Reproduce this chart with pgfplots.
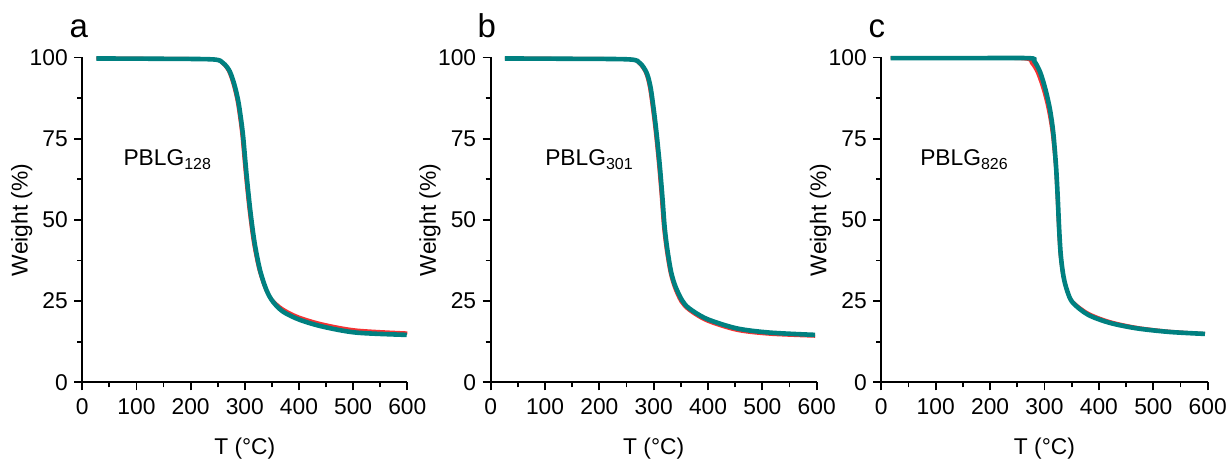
\documentclass[border=0pt]{standalone}
\usepackage{pgfplots}
\pgfplotsset{compat=1.18}
\usepackage{fontspec}
\setmainfont{Liberation Sans}
\definecolor{tealc}{RGB}{0,128,128}
\definecolor{redc}{RGB}{245,50,50}
\newcommand{\tfont}{\fontsize{22.8}{27}\selectfont}
\pgfplotsset{
  tga/.style={
    scale only axis, width=325pt, height=324.8pt,
    anchor=south west,
    xmin=0, xmax=600, ymin=0, ymax=100,
    axis x line=bottom, axis y line=left,
    axis line style={-, line width=1.8pt},
    xtick={0,100,...,600}, ytick={0,25,50,75,100},
    minor x tick num=1, minor y tick num=1,
    tick align=outside,
    major tick length=8pt, minor tick length=5pt,
    every tick/.style={line width=1.8pt, black},
    ticklabel style={font=\tfont},
    xticklabel style={yshift=-5pt},
    yticklabel style={xshift=-3pt},
    /pgf/number format/assume math mode=true,
    label style={font=\tfont},
    xlabel={T (°C)}, ylabel={Weight (\%)},
    xlabel style={at={(axis description cs:0.5,-0.2238)}, anchor=base},
    ylabel style={at={(axis description cs:-0.1865,0.5)}, anchor=center},
    clip=false,
  },
  redline/.style={color=redc, line width=3.2pt, smooth, tension=0.5},
  tealline/.style={color=tealc, line width=4.6pt, smooth, tension=0.5},
}
\begin{document}
\begin{tikzpicture}
\useasboundingbox (0pt,-462pt) rectangle (1231pt,0pt);
% panel a
\begin{axis}[tga, at={(82.3pt,-382.3pt)}]
\addplot[redline] coordinates {(26,99.8) (150,99.7) (240,99.5) (258,98.3) (270,95.8) (279,91.5) (286,86.5) (291,81) (295,75.5) (301,64.3) (308,53) (316,43) (326,34.8) (338,28.8) (350,25.5) (370,22.6) (400,20.1) (445,17.9) (506,16.1) (600,15.2)};
\addplot[tealline] coordinates {(26,99.7) (150,99.6) (242,99.4) (260,98.3) (272,95.8) (281,91.5) (288,86.5) (293,81) (297,75.5) (303,64.3) (310,53) (318,43) (328,34.6) (340,28.4) (352,24.8) (371,21.7) (402,19.2) (445,17.1) (506,15.3) (599,14.6)};
\node[anchor=base west, font=\tfont] at (axis cs:69.6,66.9) {PBLG\textsubscript{128}};
\end{axis}
% panel b
\begin{axis}[tga, at={(490.7pt,-382.3pt)}, width=326pt]
\addplot[redline] coordinates {(26,99.8) (150,99.7) (254,99.5) (273,98.2) (285,95.3) (292,91) (298,84) (303,77) (309,67) (314,57) (318,48) (323,41) (330,34) (338,29.3) (350,24.9) (365,22.2) (398,18.9) (453,16.0) (514,14.8) (597,14.2)};
\addplot[tealline] coordinates {(26,99.7) (150,99.6) (256,99.4) (275,98.2) (287,95.3) (294,91) (300,84) (305,77) (311,67) (316,57) (320,48) (325,41) (332,34) (340,29.5) (352,25.3) (365,22.8) (398,19.5) (453,16.6) (514,15.3) (597,14.6)};
\node[anchor=base west, font=\tfont] at (axis cs:93.9,66.9) {PBLG\textsubscript{301}};
\end{axis}
% panel c
\begin{axis}[tga, at={(881.3pt,-382.3pt)}, width=326.4pt]
\addplot[redline] coordinates {(17,99.9) (150,99.9) (262,99.6) (276,98.3) (287,95.3) (298,90) (307,84) (314,77) (320,67) (323,58) (326,47) (329,39) (334,32.8) (341,28.4) (351,25) (380,21.3) (420,18.7) (470,16.9) (530,15.7) (595,15.0)};
\addplot[tealline] coordinates {(17,99.8) (150,99.8) (270,99.8) (281,98.9) (292,95.5) (302,90) (310,84) (316,77) (321,67) (324,58) (327,47) (330,39) (335,32.5) (342,28) (352,24.5) (380,20.8) (420,18.3) (470,16.6) (530,15.5) (595,14.9)};
\node[anchor=base west, font=\tfont] at (axis cs:65.1,66.9) {PBLG\textsubscript{826}};
\end{axis}
\node[anchor=base west, font=\fontsize{33}{38}\selectfont] at (66pt,-37.7pt) {a};
\node[anchor=base west, font=\fontsize{33}{38}\selectfont] at (474pt,-37.7pt) {b};
\node[anchor=base west, font=\fontsize{33}{38}\selectfont] at (865pt,-37.7pt) {c};
\end{tikzpicture}
\end{document}
